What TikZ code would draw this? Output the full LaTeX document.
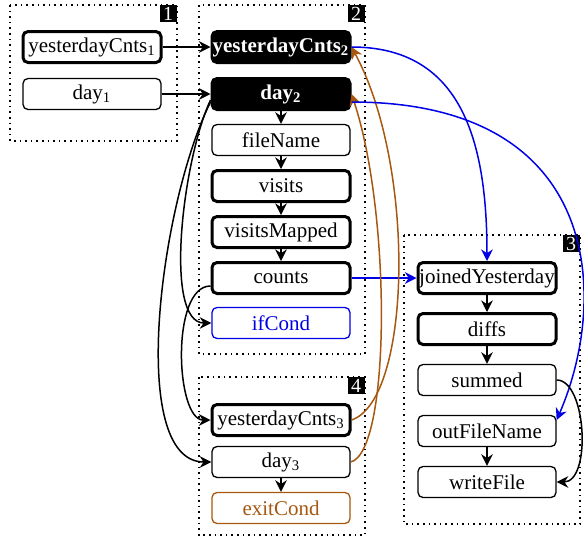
\documentclass[tikz,border=0pt]{standalone}
\usepackage{fontspec}
\setmainfont{Liberation Serif}
\usetikzlibrary{arrows.meta,calc}
\definecolor{flowblue}{RGB}{0,0,230}
\definecolor{flowbrown}{RGB}{166,88,16}
\begin{document}
\begin{tikzpicture}[x=0.5pt,y=-0.5pt,
  font=\fontsize{10.5}{12}\selectfont,
  box/.style={draw, rounded corners=2.5pt, minimum width=69pt, minimum height=15.5pt,
    inner sep=0pt, line width=0.65pt, fill=white},
  heavy/.style={box, line width=1.5pt},
  solidbox/.style={heavy, fill=black, text=white,
    font=\fontsize{10.5}{12}\selectfont\bfseries},
  group/.style={draw, dotted, line width=0.8pt},
  tag/.style={fill=black, text=white, anchor=north east, inner sep=0pt,
    minimum width=8.5pt, minimum height=8.5pt, font=\fontsize{10}{10}\selectfont},
  flow/.style={-{Stealth[length=5.8pt,width=5.8pt]}, line width=0.75pt},
]
\useasboundingbox (0,0) rectangle (584,537);

% stage frames
\draw[group] (10,5) rectangle (177,141);
\draw[group] (199,5) rectangle (365,354);
\draw[group] (404,235) rectangle (580,524);
\draw[group] (199,377) rectangle (365,535);
\node[tag] (t1) at (177,5) {1};
\node[tag] (t2) at (365,5) {2};
\node[tag] (t3) at (580,235) {3};
\node[tag] (t4) at (365,377) {4};

% stage 1
\node[heavy] (y1) at (92,47) {yesterdayCnts\textsubscript{1}};
\node[box]   (d1) at (92,94) {day\textsubscript{1}};

% stage 2
\node[solidbox] (y2) at (281,47) {yesterdayCnts\textsubscript{2}};
\node[solidbox] (d2) at (281,94) {day\textsubscript{2}};
\node[box]   (fn)  at (281,140) {fileName};
\node[heavy] (vis) at (281,186) {visits};
\node[heavy] (vm)  at (281,232) {visitsMapped};
\node[heavy] (cnt) at (281,278) {counts};
\node[box, draw=flowblue, text=flowblue] (ifc) at (281,323) {ifCond};

% stage 4
\node[heavy] (y3)  at (281,420) {yesterdayCnts\textsubscript{3}};
\node[box]   (d3)  at (281,462) {day\textsubscript{3}};
\node[box, draw=flowbrown, text=flowbrown] (exc) at (281,508) {exitCond};

% stage 3
\node[heavy] (jy)  at (487,278) {joinedYesterday};
\node[heavy] (dif) at (487,329) {diffs};
\node[box]   (sum) at (487,380) {summed};
\node[box]   (ofn) at (487,431) {outFileName};
\node[box]   (wf)  at (487,482) {writeFile};

% straight flows
\draw[flow] (y1.east) -- (y2.west);
\draw[flow] (d1.east) -- (d2.west);
\draw[flow] (d2) -- (fn);
\draw[flow] (fn) -- (vis);
\draw[flow] (vis) -- (vm);
\draw[flow] (vm) -- (cnt);
\draw[flow] (d3) -- (exc);
\draw[flow] (jy) -- (dif);
\draw[flow] (dif) -- (sum);
\draw[flow] (ofn) -- (wf);
\draw[flow, flowblue] (cnt.east) -- (jy.west);

% curved flows on the left
\draw[flow] ($(d2.west)+(0,6)$) .. controls +(-28,60) and +(-48,0) .. (ifc.west);
\draw[flow] ($(d2.west)+(0,8)$) .. controls +(-50,100) and +(-85,0) .. (d3.west);
\draw[flow] ($(cnt.west)+(0,8)$) .. controls +(-40,0) and +(-35,0) .. (y3.west);

% loop-back flows
\draw[flow, flowbrown] (y3.east) .. controls +(60,-20) and +(65,120) .. (y2.east);
\draw[flow, flowbrown] (d3.east) .. controls +(40,-10) and +(40,120) .. (d2.east);

% flows into stage 3
\draw[flow, flowblue] (y2.east) .. controls +(110,0) and +(0,-120) .. (jy.north);
\draw[flow, flowblue] ($(d2.east)+(0,8)$) .. controls +(253,0) and +(52,-120) .. ($(ofn.east)+(0,-11)$);
\draw[flow] (sum.east) .. controls +(30,0) and +(35,0) .. (wf.east);
\end{tikzpicture}
\end{document}
